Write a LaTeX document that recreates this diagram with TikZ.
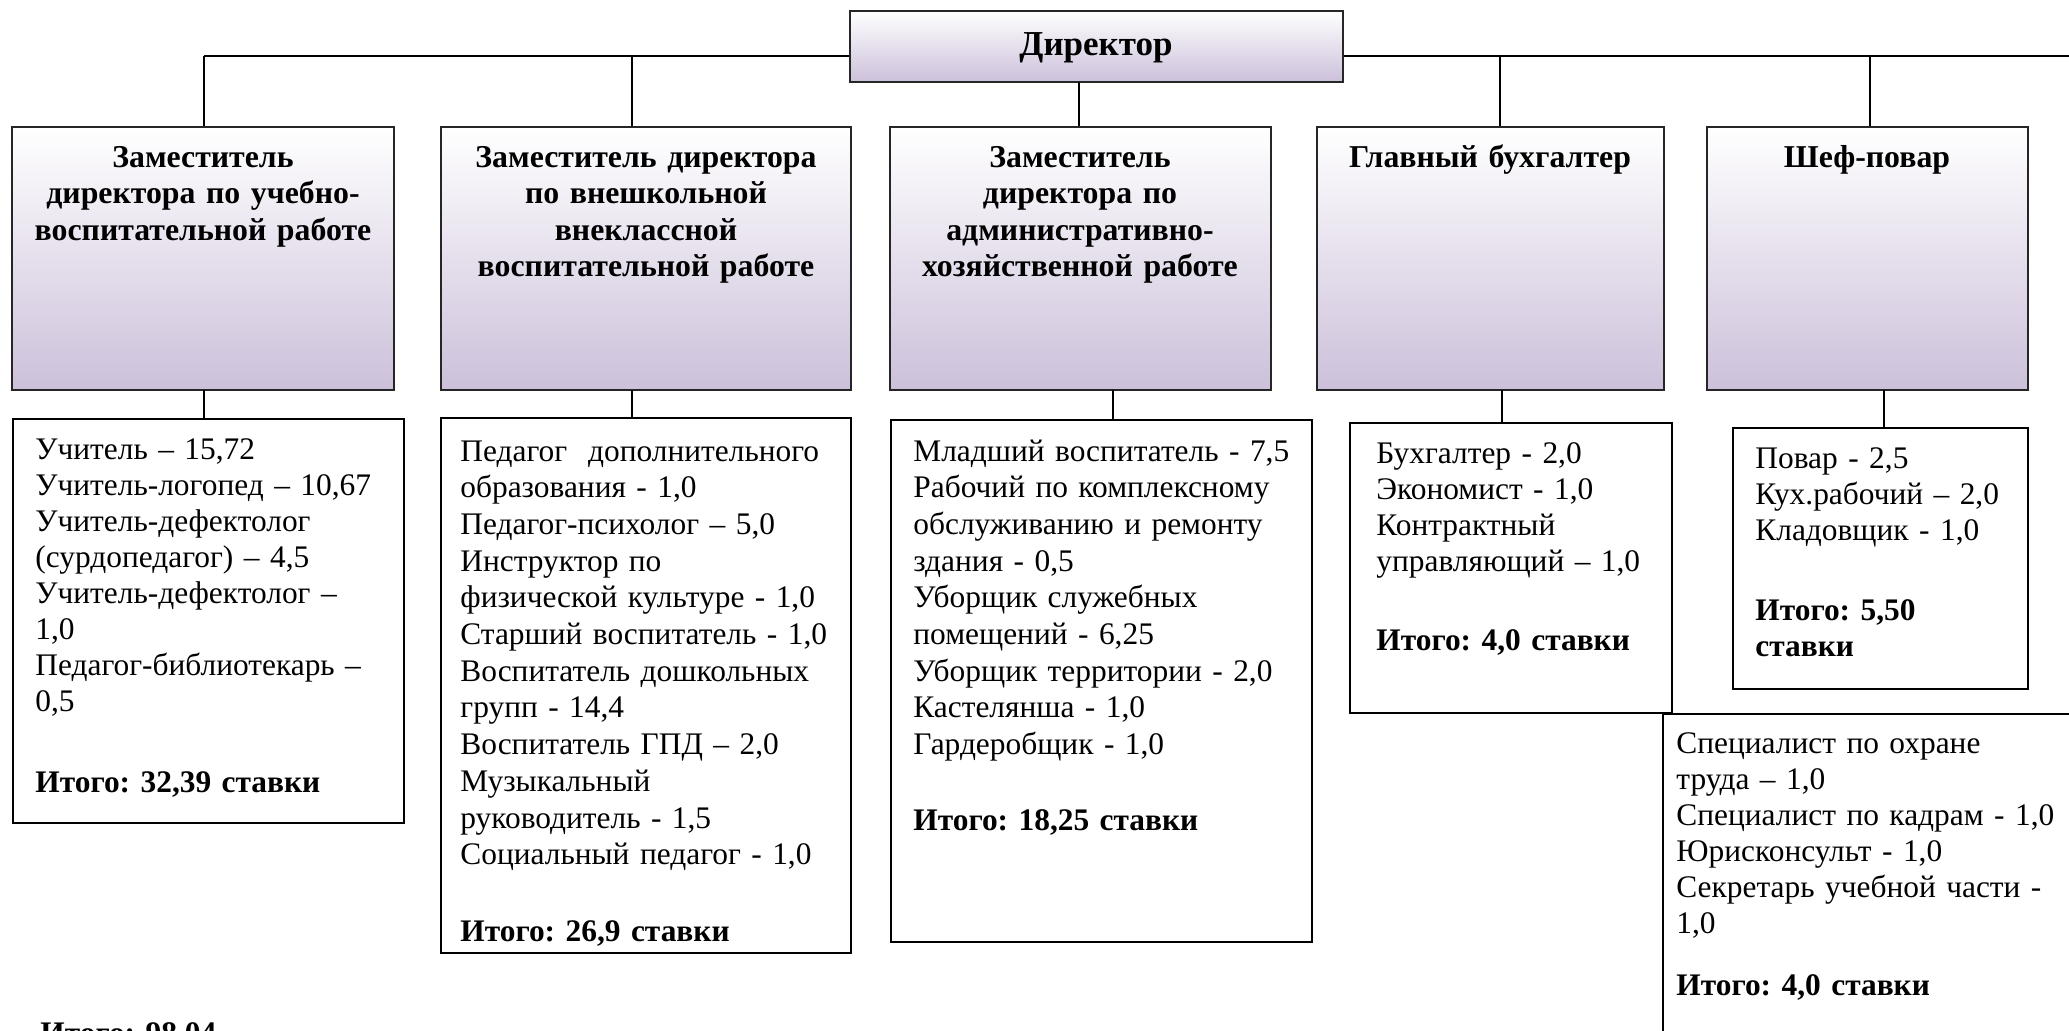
\documentclass[tikz,border=0pt]{standalone}
\usepackage{fontspec}
\setmainfont{Liberation Serif}
\usetikzlibrary{fit}
\definecolor{lav}{RGB}{204,192,218}
\newcommand\gap[1]{\\[#1]}
\frenchspacing
\tikzset{
  hbox/.style={draw=black!85, line width=1.3pt, inner sep=0pt, top color=white, bottom color=lav},
  dbox/.style={draw=black, line width=1pt, inner sep=0pt},
  conn/.style={draw=black, line width=1pt},
  htext/.style={font=\fontsize{15.9pt}{18.3pt}\selectfont\bfseries, inner sep=0pt, anchor=base, text width=200pt, align=center},
  dtext/.style={font=\fontsize{15.7pt}{18pt}\selectfont, inner sep=0pt, anchor=base west, text width=240pt, align=left},
  dtextwide/.style={dtext, font=\fontsize{15.7pt}{18.35pt}\selectfont}
}
\begin{document}
\begin{tikzpicture}[x=0.5pt,y=-0.5pt]
\useasboundingbox (0,0) rectangle (2069,1030);
\clip (0,0) rectangle (2069,1030);

% connector coordinates
\coordinate (busL) at (204,56);
\coordinate (busR) at (2069,56);
\coordinate (j2) at (632,56);
\coordinate (j3) at (1079,82);
\coordinate (j4) at (1500,56);
\coordinate (j5) at (1870,56);
\coordinate (k1) at (204,390);
\coordinate (k2) at (632,390);
\coordinate (k3) at (1113,390);
\coordinate (k4) at (1502,390);
\coordinate (k5) at (1884,390);

% header boxes
\node[hbox, fit={(850,11) (1343,82)}] (dir) {};
\node[hbox, fit={(12,127) (394,390)}] (h1) {};
\node[hbox, fit={(441,127) (851,390)}] (h2) {};
\node[hbox, fit={(890,127) (1271,390)}] (h3) {};
\node[hbox, fit={(1317,127) (1664,390)}] (h4) {};
\node[hbox, fit={(1707,127) (2028,390)}] (h5) {};

% detail boxes
\node[dbox, fit={(13,419) (404,823)}] (d1) {};
\node[dbox, fit={(441,418) (851,953)}] (d2) {};
\node[dbox, fit={(891,420) (1312,942)}] (d3) {};
\node[dbox, fit={(1350,423) (1672,713)}] (d4) {};
\node[dbox, fit={(1733,428) (2028,689)}] (d5) {};
\node[dbox, fit={(1663,714) (2200,1200)}] (d6) {};

% connectors
\draw[conn] (busL) -- (busL -| dir.west);
\draw[conn] (busL -| dir.east) -- (busR);
\draw[conn] (busL) -- (busL |- h1.north);
\draw[conn] (j2) -- (j2 |- h2.north);
\draw[conn] (j3) -- (j3 |- h3.north);
\draw[conn] (j4) -- (j4 |- h4.north);
\draw[conn] (j5) -- (j5 |- h5.north);
\draw[conn] (k1) -- (k1 |- d1.north);
\draw[conn] (k2) -- (k2 |- d2.north);
\draw[conn] (k3) -- (k3 |- d3.north);
\draw[conn] (k4) -- (k4 |- d4.north);
\draw[conn] (k5) -- (k5 |- d5.north);

% header texts
\node[htext, font=\fontsize{17.5pt}{19pt}\selectfont\bfseries] (tdir) at (1096,55) {Директор};
\node[htext] (th1) at (203,167) {Заместитель\\директора по учебно-\\воспитательной работе};
\node[htext] (th2) at (646,167) {Заместитель директора\\по внешкольной\\внеклассной\\воспитательной работе};
\node[htext] (th3) at (1080,167) {Заместитель\\директора по\\административно-\\хозяйственной работе};
\node[htext] (th4) at (1490,167) {Главный бухгалтер};
\node[htext] (th5) at (1867,167) {Шеф-повар};

% detail texts
\node[dtext] (td1) at (35,459) {Учитель – 15,72\\Учитель-логопед – 10,67\\Учитель-дефектолог\\(сурдопедагог) – 4,5\\Учитель-дефектолог –\\1,0\\Педагог-библиотекарь –\\0,5\gap{22.5pt}\textbf{Итого: 32,39 ставки}};
\node[dtextwide] (td2) at (460,461) {Педагог\ \ дополнительного\\образования - 1,0\\Педагог-психолог – 5,0\\Инструктор по\\физической культуре - 1,0\\Старший воспитатель - 1,0\\Воспитатель дошкольных\\групп - 14,4\\Воспитатель ГПД – 2,0\\Музыкальный\\руководитель - 1,5\\Социальный педагог - 1,0\gap{20pt}\textbf{Итого: 26,9 ставки}};
\node[dtextwide] (td3) at (913,461) {Младший воспитатель - 7,5\\Рабочий по комплексному\\обслуживанию и ремонту\\здания - 0,5\\Уборщик служебных\\помещений - 6,25\\Уборщик территории - 2,0\\Кастелянша - 1,0\\Гардеробщик - 1,0\gap{19.5pt}\textbf{Итого: 18,25 ставки}};
\node[dtext] (td4) at (1376,463) {Бухгалтер - 2,0\\Экономист - 1,0\\Контрактный\\управляющий – 1,0\gap{21.5pt}\textbf{Итого: 4,0 ставки}};
\node[dtext] (td5) at (1755,468) {Повар - 2,5\\Кух.рабочий – 2,0\\Кладовщик - 1,0\gap{22pt}\textbf{Итого: 5,50}\\\textbf{ставки}};
\node[dtext] (td6) at (1676,753) {Специалист по охране\\труда – 1,0\\Специалист по кадрам - 1,0\\Юрисконсульт - 1,0\\Секретарь учебной части -\\1,0\gap{13pt}\textbf{Итого: 4,0 ставки}};

% overall total (cut off at the lower edge, as in the reference)
\node[dtext, font=\fontsize{15.7pt}{18pt}\selectfont\bfseries] (tot) at (40,1043) {Итого: 98,04};
\end{tikzpicture}
\end{document}
